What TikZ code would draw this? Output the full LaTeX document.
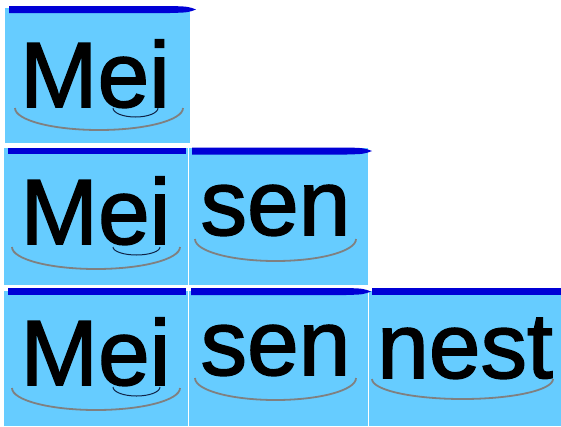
\documentclass[tikz,border=0pt]{standalone}
\usepackage{fontspec}
\setmainfont{Liberation Sans}
\newfontfamily\wordfont[FakeBold=1.6]{Liberation Sans}
\definecolor{boxblue}{RGB}{102,204,255}
\definecolor{barblue}{RGB}{0,0,214}
\definecolor{smilegray}{RGB}{128,128,128}
\definecolor{linkdark}{RGB}{15,35,70}
\tikzset{
  wordbox/.style={fill=boxblue},
  topbar/.style={fill=barblue},
  word/.style={anchor=base, inner sep=0pt, font=\wordfont\fontsize{93}{93}\selectfont},
  smile/.style={draw=smilegray, line width=1.8pt},
  link/.style={draw=linkdark, line width=1pt},
}
\begin{document}
\begin{tikzpicture}[x=1pt,y=-1pt]
	\useasboundingbox (0,0) rectangle (561,426);
	% boxes
	\fill[wordbox] (5,8) rectangle (190,143);
	\fill[wordbox] (4,148) rectangle (188,285);
	\fill[wordbox] (189,148) rectangle (368,285);
	\fill[wordbox] (4,291) rectangle (188,426);
	\fill[wordbox] (189,291) rectangle (368,426);
	\fill[wordbox] (369,291) rectangle (561,426);
	% bars on top
	\fill[topbar] (9,6) -- (170,6) .. controls (188,6.5) .. (196,9.5) .. controls (188,12.5) .. (170,13) -- (9,13) -- cycle;
	\fill[topbar] (8,148) rectangle (186,154);
	\fill[topbar] (192,147.5) -- (347,147.5) .. controls (364,148) .. (372,151) .. controls (364,154) .. (347,154.5) -- (192,154.5) -- cycle;
	\fill[topbar] (8,288) rectangle (186,295);
	\fill[topbar] (191,288) -- (346,288) .. controls (363,288.5) .. (371,291.5) .. controls (363,294.5) .. (346,295) -- (191,295) -- cycle;
	\fill[topbar] (372,288) rectangle (561,295);
	% words
	\node[word] (mei1) at (95,107) {Mei};
	\node[word] (mei2) at (95.5,244) {Mei};
	\node[word] (sen2) at (275.5,235) {sen};
	\node[word] (mei3) at (95.5,385) {Mei};
	\node[word] (sen3) at (275.5,375) {sen};
	\node[word] (nest3) at (465,378) {nest};
	% smiles under the words
	\draw[smile] ([xshift=-80pt,yshift=-1pt]mei1.base) arc[start angle=180, end angle=360, x radius=84pt, y radius=22pt];
	\draw[smile] ([xshift=-83.5pt,yshift=-3pt]mei2.base) arc[start angle=180, end angle=360, x radius=84pt, y radius=22pt];
	\draw[smile] ([xshift=-83.5pt,yshift=-3pt]mei3.base) arc[start angle=180, end angle=360, x radius=84pt, y radius=22pt];
	\draw[smile] ([xshift=-80.5pt,yshift=-4pt]sen2.base) arc[start angle=180, end angle=360, x radius=80.5pt, y radius=22pt];
	\draw[smile] ([xshift=-80.5pt,yshift=-3pt]sen3.base) arc[start angle=180, end angle=360, x radius=80.5pt, y radius=22pt];
	\draw[smile] ([xshift=-93pt,yshift=-1pt]nest3.base) arc[start angle=180, end angle=360, x radius=90.5pt, y radius=20pt];
	% small link under "ei"
	\draw[link] ([xshift=18pt,yshift=-1pt]mei1.base) arc[start angle=180, end angle=360, x radius=22.5pt, y radius=9pt];
	\draw[link] ([xshift=17.5pt,yshift=-3pt]mei2.base) arc[start angle=180, end angle=360, x radius=23.5pt, y radius=8pt];
	\draw[link] ([xshift=17.5pt,yshift=-2pt]mei3.base) arc[start angle=180, end angle=360, x radius=23.5pt, y radius=9pt];
\end{tikzpicture}
\end{document}
